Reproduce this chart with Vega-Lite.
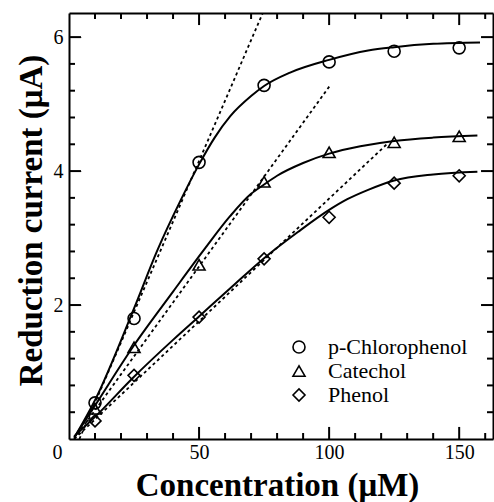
{
  "$schema": "https://vega.github.io/schema/vega-lite/v6.json",
  "width": 424,
  "height": 426,
  "autosize": {"type": "none"},
  "padding": {"left": 69, "top": 13, "right": 1, "bottom": 63},
  "background": "white",
  "datasets": {
    "points": [
      {"series": "p-Chlorophenol", "x": 10, "y": 0.54},
      {"series": "p-Chlorophenol", "x": 25, "y": 1.80},
      {"series": "p-Chlorophenol", "x": 50, "y": 4.13},
      {"series": "p-Chlorophenol", "x": 75, "y": 5.28},
      {"series": "p-Chlorophenol", "x": 100, "y": 5.63},
      {"series": "p-Chlorophenol", "x": 125, "y": 5.79},
      {"series": "p-Chlorophenol", "x": 150, "y": 5.84},
      {"series": "Catechol", "x": 10, "y": 0.45},
      {"series": "Catechol", "x": 25, "y": 1.37},
      {"series": "Catechol", "x": 50, "y": 2.60},
      {"series": "Catechol", "x": 75, "y": 3.84},
      {"series": "Catechol", "x": 100, "y": 4.28},
      {"series": "Catechol", "x": 125, "y": 4.43},
      {"series": "Catechol", "x": 150, "y": 4.52},
      {"series": "Phenol", "x": 10, "y": 0.27},
      {"series": "Phenol", "x": 25, "y": 0.95},
      {"series": "Phenol", "x": 50, "y": 1.82},
      {"series": "Phenol", "x": 75, "y": 2.69},
      {"series": "Phenol", "x": 100, "y": 3.31},
      {"series": "Phenol", "x": 125, "y": 3.82},
      {"series": "Phenol", "x": 150, "y": 3.93}
    ],
    "curves": [
      {"series": "p-Chlorophenol", "x": 2, "y": 0.02},
      {"series": "p-Chlorophenol", "x": 10, "y": 0.58},
      {"series": "p-Chlorophenol", "x": 25, "y": 1.95},
      {"series": "p-Chlorophenol", "x": 34, "y": 2.82},
      {"series": "p-Chlorophenol", "x": 43, "y": 3.57},
      {"series": "p-Chlorophenol", "x": 50, "y": 4.1},
      {"series": "p-Chlorophenol", "x": 56, "y": 4.5},
      {"series": "p-Chlorophenol", "x": 62, "y": 4.82},
      {"series": "p-Chlorophenol", "x": 70, "y": 5.12},
      {"series": "p-Chlorophenol", "x": 75, "y": 5.27},
      {"series": "p-Chlorophenol", "x": 85, "y": 5.47},
      {"series": "p-Chlorophenol", "x": 100, "y": 5.66},
      {"series": "p-Chlorophenol", "x": 115, "y": 5.8},
      {"series": "p-Chlorophenol", "x": 125, "y": 5.85},
      {"series": "p-Chlorophenol", "x": 140, "y": 5.9},
      {"series": "p-Chlorophenol", "x": 158, "y": 5.92},
      {"series": "Catechol", "x": 2, "y": 0.02},
      {"series": "Catechol", "x": 10, "y": 0.5},
      {"series": "Catechol", "x": 25, "y": 1.4},
      {"series": "Catechol", "x": 40, "y": 2.2},
      {"series": "Catechol", "x": 52, "y": 2.83},
      {"series": "Catechol", "x": 62, "y": 3.33},
      {"series": "Catechol", "x": 70, "y": 3.66},
      {"series": "Catechol", "x": 75, "y": 3.8},
      {"series": "Catechol", "x": 80, "y": 3.93},
      {"series": "Catechol", "x": 90, "y": 4.12},
      {"series": "Catechol", "x": 100, "y": 4.26},
      {"series": "Catechol", "x": 112, "y": 4.37},
      {"series": "Catechol", "x": 125, "y": 4.45},
      {"series": "Catechol", "x": 140, "y": 4.5},
      {"series": "Catechol", "x": 157, "y": 4.53},
      {"series": "Phenol", "x": 2, "y": 0.04},
      {"series": "Phenol", "x": 10, "y": 0.33},
      {"series": "Phenol", "x": 25, "y": 0.93},
      {"series": "Phenol", "x": 40, "y": 1.48},
      {"series": "Phenol", "x": 50, "y": 1.83},
      {"series": "Phenol", "x": 62, "y": 2.25},
      {"series": "Phenol", "x": 75, "y": 2.7},
      {"series": "Phenol", "x": 88, "y": 3.09},
      {"series": "Phenol", "x": 100, "y": 3.42},
      {"series": "Phenol", "x": 107, "y": 3.58},
      {"series": "Phenol", "x": 115, "y": 3.72},
      {"series": "Phenol", "x": 125, "y": 3.86},
      {"series": "Phenol", "x": 140, "y": 3.95},
      {"series": "Phenol", "x": 157, "y": 3.99}
    ],
    "dashed": [
      {"series": "p-Chlorophenol", "x": 4, "y": 0},
      {"series": "p-Chlorophenol", "x": 74.5, "y": 6.36},
      {"series": "Catechol", "x": 2, "y": 0},
      {"series": "Catechol", "x": 100.4, "y": 5.28},
      {"series": "Phenol", "x": 2, "y": 0},
      {"series": "Phenol", "x": 122.7, "y": 4.42}
    ],
    "xticks": [
      {"v": 10}, {"v": 20}, {"v": 30}, {"v": 40}, {"v": 50}, {"v": 60}, {"v": 70}, {"v": 80},
      {"v": 90}, {"v": 100}, {"v": 110}, {"v": 120}, {"v": 130}, {"v": 140}, {"v": 150}, {"v": 160}
    ],
    "yticks": [
      {"v": 0.4}, {"v": 0.8}, {"v": 1.2}, {"v": 1.6}, {"v": 2}, {"v": 2.4}, {"v": 2.8},
      {"v": 3.2}, {"v": 3.6}, {"v": 4}, {"v": 4.4}, {"v": 4.8}, {"v": 5.2}, {"v": 5.6}, {"v": 6}
    ]
  },
  "layer": [
    {
      "data": {"name": "dashed"},
      "mark": {"type": "line", "color": "black", "strokeWidth": 1.8, "strokeDash": [3, 3], "clip": true},
      "encoding": {
        "x": {
          "field": "x", "type": "quantitative",
          "scale": {"domain": [0, 163], "nice": false, "zero": false},
          "axis": {"orient": "top", "ticks": false, "labels": false, "title": null}
        },
        "y": {
          "field": "y", "type": "quantitative",
          "scale": {"domain": [0, 6.36], "nice": false, "zero": false},
          "axis": {"orient": "right", "ticks": false, "labels": false, "title": null}
        },
        "detail": {"field": "series", "type": "nominal"}
      }
    },
    {
      "data": {"name": "curves"},
      "mark": {"type": "line", "color": "black", "strokeWidth": 2, "interpolate": "monotone"},
      "encoding": {
        "x": {
          "field": "x", "type": "quantitative",
          "scale": {"domain": [0, 163], "nice": false, "zero": false},
          "axis": {
            "orient": "bottom",
            "values": [0, 50, 100, 150],
            "tickSize": -12,
            "labelPadding": 15,
            "labelOffset": {"condition": {"test": "datum.value === 0", "value": -12}, "value": 0},
            "labelFlush": false,
            "labelOverlap": false,
            "title": "Concentration (μM)",
            "titleX": 208,
            "titleY": 56,
            "titleAlign": "center",
            "titleBaseline": "alphabetic"
          }
        },
        "y": {
          "field": "y", "type": "quantitative",
          "scale": {"domain": [0, 6.36], "nice": false, "zero": false},
          "axis": {
            "orient": "left",
            "values": [2, 4, 6],
            "tickSize": -12,
            "labelPadding": 18,
            "labelFlush": false,
            "labelOverlap": false,
            "title": "Reduction current (μA)",
            "titleAngle": -90,
            "titleX": -28,
            "titleY": 207,
            "titleAlign": "center",
            "titleBaseline": "alphabetic"
          }
        },
        "detail": {"field": "series", "type": "nominal"}
      }
    },
    {
      "data": {"name": "xticks"},
      "transform": [{"filter": "datum.v % 50 === 0"}],
      "mark": {"type": "rule", "color": "black", "strokeWidth": 2},
      "encoding": {
        "x": {"field": "v", "type": "quantitative", "scale": {"domain": [0, 163], "nice": false, "zero": false}, "axis": null},
        "y": {"datum": 0, "type": "quantitative", "scale": {"domain": [0, 6.36], "nice": false, "zero": false}, "axis": null},
        "y2": {"datum": 0.18}
      }
    },
    {
      "data": {"name": "xticks"},
      "transform": [{"filter": "datum.v % 50 !== 0"}],
      "mark": {"type": "rule", "color": "black", "strokeWidth": 2},
      "encoding": {
        "x": {"field": "v", "type": "quantitative", "scale": {"domain": [0, 163], "nice": false, "zero": false}, "axis": null},
        "y": {"datum": 0, "type": "quantitative", "scale": {"domain": [0, 6.36], "nice": false, "zero": false}, "axis": null},
        "y2": {"datum": 0.09}
      }
    },
    {
      "data": {"name": "xticks"},
      "transform": [{"filter": "datum.v % 50 === 0"}],
      "mark": {"type": "rule", "color": "black", "strokeWidth": 2},
      "encoding": {
        "x": {"field": "v", "type": "quantitative", "scale": {"domain": [0, 163], "nice": false, "zero": false}, "axis": null},
        "y": {"datum": 6.36, "type": "quantitative", "scale": {"domain": [0, 6.36], "nice": false, "zero": false}, "axis": null},
        "y2": {"datum": 6.18}
      }
    },
    {
      "data": {"name": "xticks"},
      "transform": [{"filter": "datum.v % 50 !== 0"}],
      "mark": {"type": "rule", "color": "black", "strokeWidth": 2},
      "encoding": {
        "x": {"field": "v", "type": "quantitative", "scale": {"domain": [0, 163], "nice": false, "zero": false}, "axis": null},
        "y": {"datum": 6.36, "type": "quantitative", "scale": {"domain": [0, 6.36], "nice": false, "zero": false}, "axis": null},
        "y2": {"datum": 6.27}
      }
    },
    {
      "data": {"name": "yticks"},
      "transform": [{"filter": "datum.v % 2 === 0"}],
      "mark": {"type": "rule", "color": "black", "strokeWidth": 2},
      "encoding": {
        "y": {"field": "v", "type": "quantitative", "scale": {"domain": [0, 6.36], "nice": false, "zero": false}, "axis": null},
        "x": {"datum": 0, "type": "quantitative", "scale": {"domain": [0, 163], "nice": false, "zero": false}, "axis": null},
        "x2": {"datum": 4.6}
      }
    },
    {
      "data": {"name": "yticks"},
      "transform": [{"filter": "datum.v % 2 !== 0"}],
      "mark": {"type": "rule", "color": "black", "strokeWidth": 2},
      "encoding": {
        "y": {"field": "v", "type": "quantitative", "scale": {"domain": [0, 6.36], "nice": false, "zero": false}, "axis": null},
        "x": {"datum": 0, "type": "quantitative", "scale": {"domain": [0, 163], "nice": false, "zero": false}, "axis": null},
        "x2": {"datum": 2.3}
      }
    },
    {
      "data": {"name": "yticks"},
      "transform": [{"filter": "datum.v % 2 === 0"}],
      "mark": {"type": "rule", "color": "black", "strokeWidth": 2},
      "encoding": {
        "y": {"field": "v", "type": "quantitative", "scale": {"domain": [0, 6.36], "nice": false, "zero": false}, "axis": null},
        "x": {"datum": 163, "type": "quantitative", "scale": {"domain": [0, 163], "nice": false, "zero": false}, "axis": null},
        "x2": {"datum": 158.4}
      }
    },
    {
      "data": {"name": "yticks"},
      "transform": [{"filter": "datum.v % 2 !== 0"}],
      "mark": {"type": "rule", "color": "black", "strokeWidth": 2},
      "encoding": {
        "y": {"field": "v", "type": "quantitative", "scale": {"domain": [0, 6.36], "nice": false, "zero": false}, "axis": null},
        "x": {"datum": 163, "type": "quantitative", "scale": {"domain": [0, 163], "nice": false, "zero": false}, "axis": null},
        "x2": {"datum": 160.7}
      }
    },
    {
      "data": {"name": "points"},
      "mark": {"type": "point", "filled": false, "color": "black", "opacity": 1, "strokeWidth": 1.6, "size": 144},
      "encoding": {
        "x": {"field": "x", "type": "quantitative", "scale": {"domain": [0, 163], "nice": false, "zero": false}, "axis": null},
        "y": {"field": "y", "type": "quantitative", "scale": {"domain": [0, 6.36], "nice": false, "zero": false}, "axis": null},
        "shape": {
          "field": "series", "type": "nominal",
          "scale": {"domain": ["p-Chlorophenol", "Catechol", "Phenol"], "range": ["circle", "triangle-up", "diamond"]},
          "legend": {
            "title": null,
            "orient": "none",
            "legendX": 219,
            "legendY": 323,
            "labelFont": "Liberation Serif",
            "labelFontSize": 22,
            "labelColor": "black",
            "labelOffset": 18,
            "rowPadding": 2,
            "symbolSize": 144,
            "symbolStrokeWidth": 1.6
          }
        }
      }
    }
  ],
  "resolve": {"axis": {"x": "independent", "y": "independent"}},
  "config": {
    "view": {"stroke": null},
    "font": "Liberation Serif",
    "axis": {
      "grid": false,
      "domainColor": "black",
      "domainWidth": 2,
      "labelFont": "Liberation Serif",
      "labelFontSize": 20,
      "labelColor": "black",
      "titleFont": "Liberation Serif",
      "titleFontSize": 33,
      "titleFontWeight": "bold",
      "titleColor": "black"
    }
  }
}
